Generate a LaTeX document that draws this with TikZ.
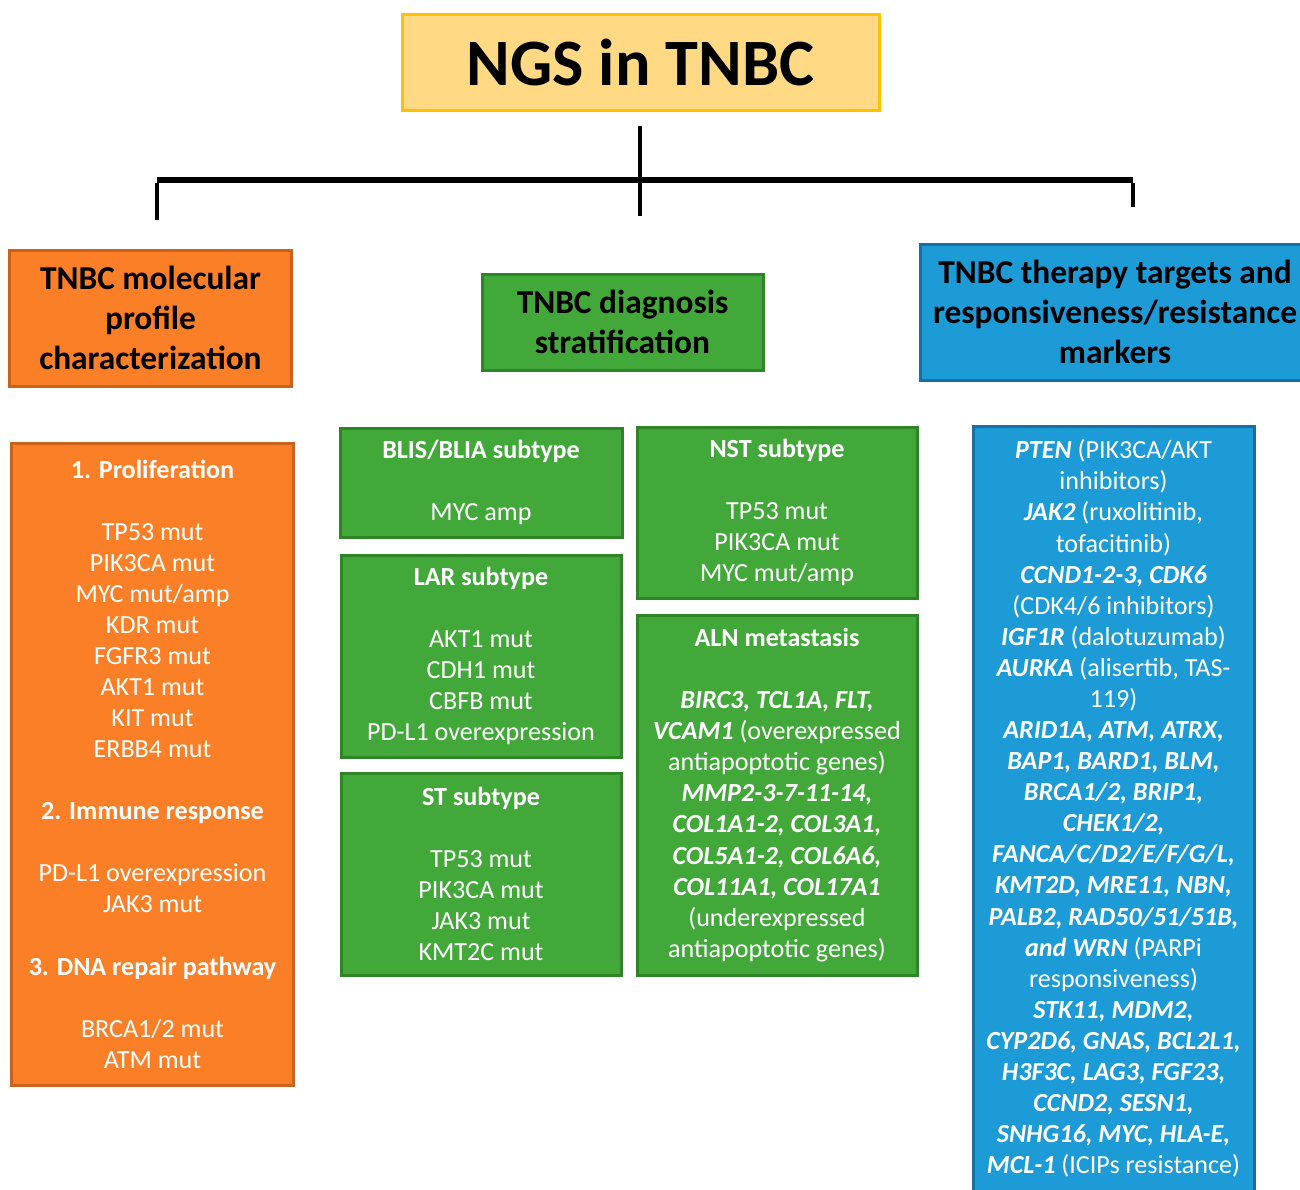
\documentclass[tikz,border=0pt]{standalone}
\usepackage{fontspec}
\setmainfont{Carlito}
\usetikzlibrary{positioning}

\definecolor{titlefill}{HTML}{FFD983}
\definecolor{titledraw}{HTML}{FFC000}
\definecolor{orangefill}{HTML}{FA7F26}
\definecolor{orangedraw}{HTML}{C8621C}
\definecolor{greenfill}{HTML}{43A83A}
\definecolor{greendraw}{HTML}{2E8526}
\definecolor{bluefill}{HTML}{1C9BD6}
\definecolor{bluedraw}{HTML}{1B6E9F}

\newcommand{\gene}[1]{\textbf{\textit{#1}}}

\begin{document}
\begin{tikzpicture}[
      x=1bp, y=-1bp,
      every node/.style={inner sep=0pt, align=center},
      titlebox/.style={rectangle, draw=titledraw, line width=3bp, fill=titlefill,
                       minimum width=477bp, minimum height=96bp, font=\fontsize{66.5}{72}\selectfont\bfseries},
      head/.style    ={rectangle, line width=3bp, minimum width=281bp, minimum height=136bp,
                       font=\fontsize{33.5}{40}\selectfont\bfseries},
      orangehead/.style={head, draw=orangedraw, fill=orangefill},
      greenhead/.style ={head, draw=greendraw,  fill=greenfill, minimum height=96bp},
      bluehead/.style  ={head, draw=bluedraw,   fill=bluefill, minimum width=390bp},
      list/.style    ={rectangle, line width=3bp, text=white, minimum width=281bp,
                       font=\fontsize{26.2}{31.2}\selectfont},
      orangelist/.style={list, draw=orangedraw, fill=orangefill},
      greenlist/.style ={list, draw=greendraw,  fill=greenfill, minimum width=280bp},
      bluelist/.style  ={list, draw=bluedraw,   fill=bluefill},
      conn/.style    ={draw=black, line width=4bp},
      node distance=15bp
    ]
    \clip (0,0) rectangle (1300,1189);
    \useasboundingbox (0,0) rectangle (1300,1189);

    % Titel
    \node[titlebox] (NGS) at (640.5,62) {NGS in TNBC};

    % Forbindelser
    \coordinate (hubtop) at (640,126);
    \coordinate (hubbot) at (640,216);
    \coordinate (barL)   at (157,180);
    \coordinate (barR)   at (1133,180);
    \coordinate (dropL)  at (157,220);
    \coordinate (dropR)  at (1133,207);
    \draw[conn] (hubtop) -- (hubbot);
    \draw[conn, line width=6bp] (barL) -- (barR);
    \draw[conn] ([yshift=-3bp]barL) -- (dropL);
    \draw[conn] ([yshift=-3bp]barR) -- (dropR);

    % Overskrifter
    \node[orangehead] (MP) at (150.5,318) {TNBC molecular\\profile\\characterization};
    \node[greenhead]  (DS) at (622.5,322) {TNBC diagnosis\\stratification};
    \node[bluehead]   (TT) at (1115,312)  {TNBC therapy targets and\\responsiveness/resistance\\markers};

    % Molekylær profil
    \node[orangelist, minimum height=642bp] (prof) at (152.5,764) {%
      \textbf{1. Proliferation}\\[31bp]
      TP53 mut\\PIK3CA mut\\MYC mut/amp\\KDR mut\\FGFR3 mut\\AKT1 mut\\KIT mut\\ERBB4 mut\\[31bp]
      \textbf{2. Immune response}\\[31bp]
      PD-L1 overexpression\\JAK3 mut\\[31bp]
      \textbf{3. DNA repair pathway}\\[31bp]
      BRCA1/2 mut\\ATM mut};

    % Subtyper, venstre kolonne
    \node[greenlist, minimum width=282bp, minimum height=109bp] (BLIS) at (481,482.5) {%
      \textbf{BLIS/BLIA subtype}\\[31bp]MYC amp};
    \node[greenlist, minimum height=202bp, below=of BLIS] (LAR) {%
      \textbf{LAR subtype}\\[31bp]AKT1 mut\\CDH1 mut\\CBFB mut\\PD-L1 overexpression};
    \node[greenlist, minimum height=202bp, below=13bp of LAR] (ST) {%
      \textbf{ST subtype}\\[31bp]TP53 mut\\PIK3CA mut\\JAK3 mut\\KMT2C mut};

    % Subtyper, høyre kolonne
    \node[greenlist, minimum height=171bp] (NST) at (777,512.5) {%
      \textbf{NST subtype}\\[31bp]TP53 mut\\PIK3CA mut\\MYC mut/amp};
    \node[greenlist, minimum height=360bp, below=14bp of NST] (ALN) {%
      \textbf{ALN metastasis}\\[31bp]
      \gene{BIRC3, TCL1A, FLT,}\\
      \gene{VCAM1} (overexpressed\\antiapoptotic genes)\\
      \gene{MMP2-3-7-11-14,}\\\gene{COL1A1-2, COL3A1,}\\\gene{COL5A1-2, COL6A6,}\\\gene{COL11A1, COL17A1}\\
      (underexpressed\\antiapoptotic genes)};

    % Terapimål
    \node[bluelist, minimum height=765bp] (targ) at (1113.5,808.5) {%
      \gene{PTEN} (PIK3CA/AKT\\inhibitors)\\
      \gene{JAK2} (ruxolitinib,\\tofacitinib)\\
      \gene{CCND1-2-3, CDK6}\\(CDK4/6 inhibitors)\\
      \gene{IGF1R} (dalotuzumab)\\
      \gene{AURKA} (alisertib, TAS-\\119)\\
      \gene{ARID1A, ATM, ATRX,}\\\gene{BAP1, BARD1, BLM,}\\\gene{BRCA1/2, BRIP1,}\\\gene{CHEK1/2,}\\
      \gene{FANCA/C/D2/E/F/G/L,}\\\gene{KMT2D, MRE11, NBN,}\\\gene{PALB2, RAD50/51/51B,}\\
      \gene{and WRN} (PARPi\\responsiveness)\\
      \gene{STK11, MDM2,}\\\gene{CYP2D6, GNAS, BCL2L1,}\\\gene{H3F3C, LAG3, FGF23,}\\
      \gene{CCND2, SESN1,}\\\gene{SNHG16, MYC, HLA-E,}\\
      \gene{MCL-1} (ICIPs resistance)};

\end{tikzpicture}
\end{document}
